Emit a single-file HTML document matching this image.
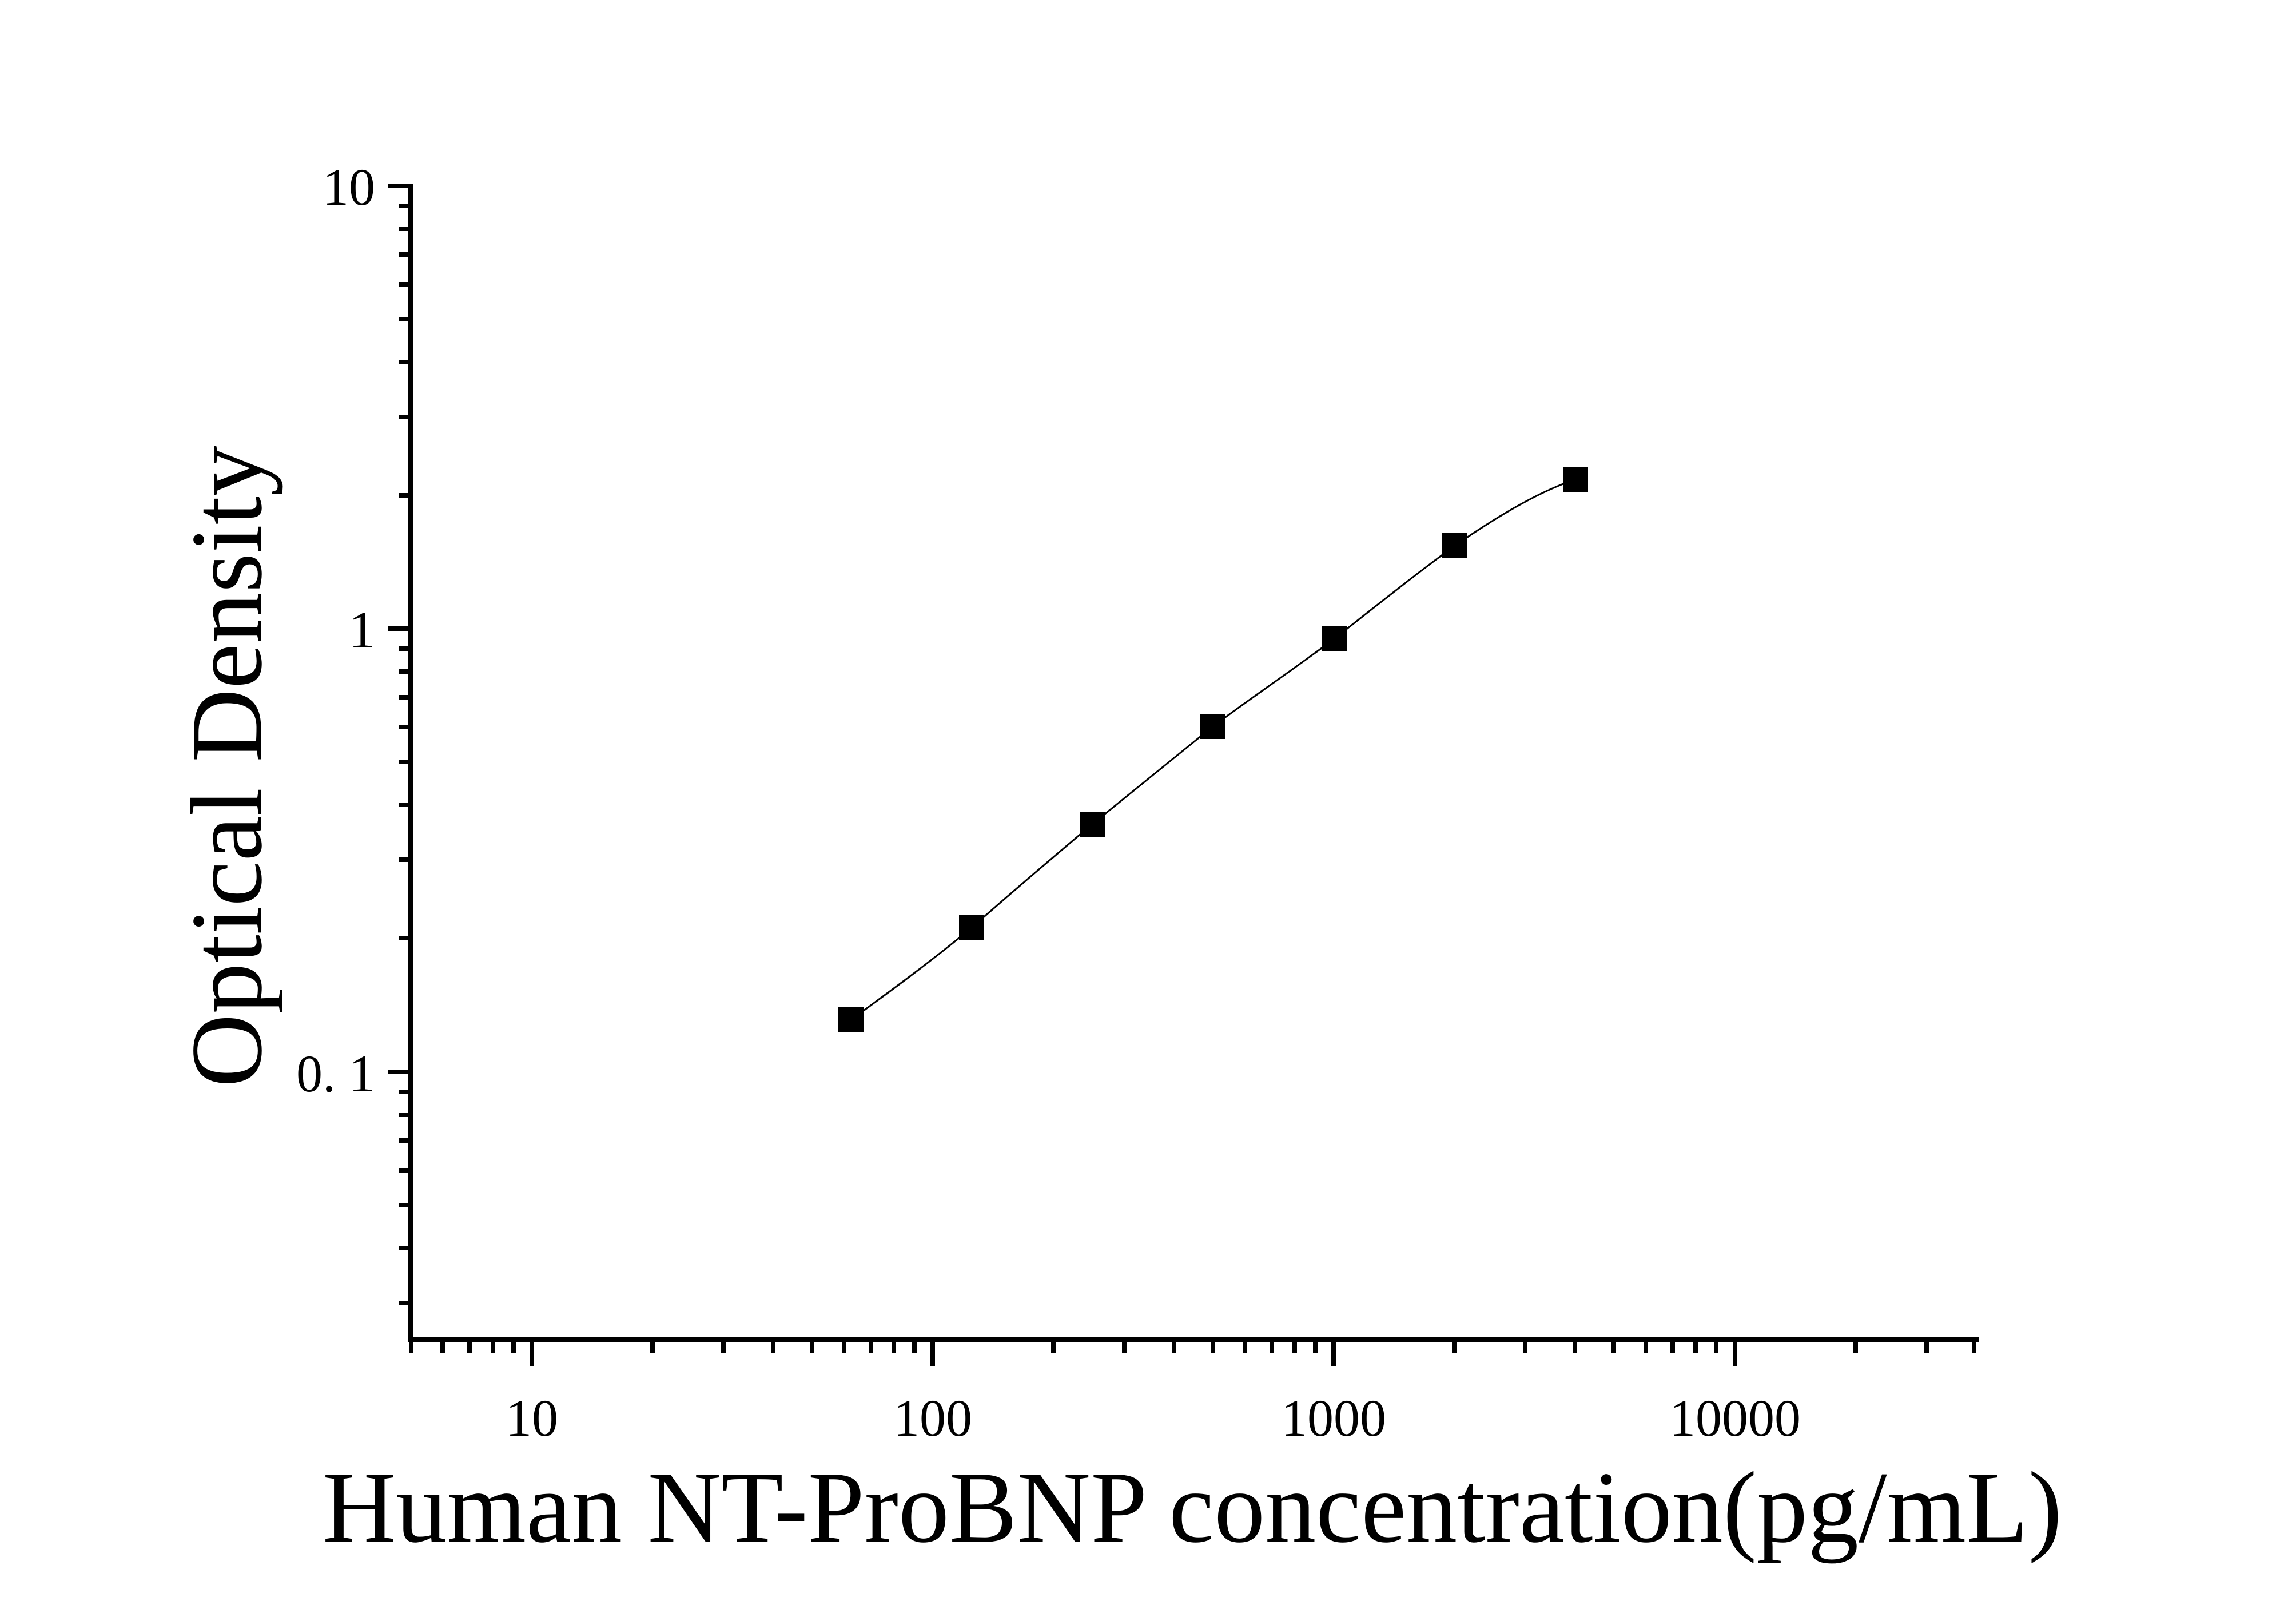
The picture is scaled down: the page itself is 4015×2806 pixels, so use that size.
<!DOCTYPE html>
<html><head><meta charset="utf-8"><style>
html,body{margin:0;padding:0;background:#fff;}
svg{display:block;}
text{font-family:"Liberation Serif",serif;fill:#000;}
</style></head><body>
<svg width="4015" height="2806" viewBox="0 0 4015 2806" xmlns="http://www.w3.org/2000/svg">
<rect width="4015" height="2806" fill="#fff"/>
<g stroke="#000" stroke-width="8" fill="none">
<path d="M718 321 V2346 M714 2342 H3460"/>
<path d="M678 325 H718 M678 1099 H718 M678 1874 H718"/>
<path d="M698 360H718M698 400H718M698 445H718M698 497H718M698 558H718M698 633H718M698 729H718M698 866H718
M698 1134H718M698 1174H718M698 1219H718M698 1271H718M698 1332H718M698 1407H718M698 1503H718M698 1640H718
M698 1909H718M698 1949H718M698 1994H718M698 2046H718M698 2107H718M698 2182H718M698 2278H718"/>
<path d="M930 2342V2389M1631 2342V2389M2332 2342V2389M3034 2342V2389"/>
<path d="M719 2342V2365M774 2342V2365M821 2342V2365M862 2342V2365M898 2342V2365
M1141 2342V2365M1265 2342V2365M1352 2342V2365M1420 2342V2365M1476 2342V2365M1523 2342V2365M1563 2342V2365M1599 2342V2365
M1842 2342V2365M1966 2342V2365M2053 2342V2365M2121 2342V2365M2177 2342V2365M2224 2342V2365M2264 2342V2365M2300 2342V2365
M2543 2342V2365M2667 2342V2365M2754 2342V2365M2822 2342V2365M2878 2342V2365M2925 2342V2365M2965 2342V2365M3001 2342V2365
M3245 2342V2365M3369 2342V2365M3452 2342V2365"/>
</g>
<path d="M1488 1783 C1558 1732 1629 1680 1699 1622 C1769 1560 1840 1500 1910 1441 C1980 1384 2051 1327 2121 1270 C2191 1218 2262 1170 2333 1117 C2403 1062 2474 1005 2544 954 C2614 906 2685 862 2755 838" stroke="#000" stroke-width="3" fill="none"/>
<g fill="#000">
<rect x="1466" y="1761" width="44" height="44"/>
<rect x="1677" y="1600" width="44" height="44"/>
<rect x="1888" y="1419" width="44" height="44"/>
<rect x="2099" y="1248" width="44" height="44"/>
<rect x="2311" y="1095" width="44" height="44"/>
<rect x="2522" y="932" width="44" height="44"/>
<rect x="2733" y="816" width="44" height="44"/>
</g>
<g font-size="92" text-anchor="end">
<text x="656" y="358">10</text>
<text x="656" y="1132">1</text>
<text x="656" y="1908">0. 1</text>
</g>
<g font-size="92" text-anchor="middle">
<text x="930" y="2510">10</text>
<text x="1631" y="2510">100</text>
<text x="2332" y="2510">1000</text>
<text x="3034" y="2510">10000</text>
</g>
<text x="2085" y="2695" font-size="178" text-anchor="middle">Human NT-ProBNP concentration(pg/mL)</text>
<text transform="translate(456,1340) rotate(-90)" font-size="178" text-anchor="middle">Optical Density</text>
</svg>
</body></html>
